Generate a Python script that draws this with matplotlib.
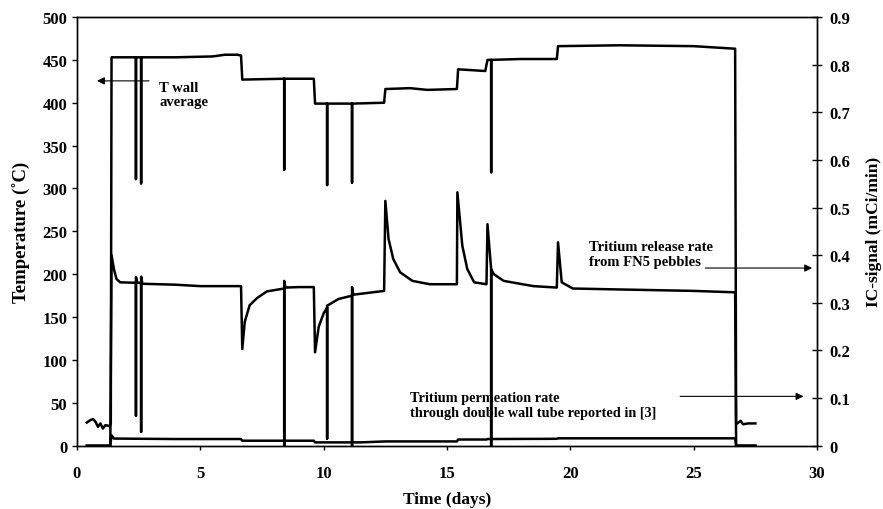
import matplotlib
matplotlib.use("Agg")
import matplotlib.pyplot as plt

plt.rcParams['font.family'] = ['Liberation Serif', 'DejaVu Serif']
plt.rcParams['font.weight'] = 'bold'

# T wall average (deg C), left axis
twall_days = [0.40, 0.55, 0.65, 0.75, 0.85, 0.95, 1.05, 1.15, 1.30, 1.37,
              1.40, 2.39, 2.39, 2.39, 2.60, 2.60, 2.60, 4.0, 5.5, 6.0, 6.5, 6.65,
              6.70, 8.40, 8.40, 8.40, 9.60,
              9.65, 10.14, 10.14, 10.14, 11.15, 11.15, 11.15, 12.45,
              12.50, 13.5, 14.2, 15.40,
              15.45, 16.55, 16.64, 16.79, 16.79, 16.79, 18.0, 19.45,
              19.50, 22.0, 25.0, 26.68,
              26.72, 26.9, 27.0, 27.2, 27.5]
twall_temp = [27, 30, 31, 28, 22, 26, 20, 24, 23, 25,
              453, 453, 311, 453, 453, 306, 453, 453, 454, 456, 456, 455,
              427, 428, 322, 428, 428,
              399, 399, 304, 399, 399, 307, 399, 400,
              416, 417, 415, 416,
              439, 437, 450, 450, 319, 450, 451, 451,
              466, 467, 466, 463,
              25, 29, 25, 26, 26]

# Tritium release rate from FN5 pebbles (mCi/min), right axis
release_days = [0.40, 1.35, 1.40, 1.50, 1.60, 1.75, 2.39, 2.39, 2.39, 2.45,
                2.60, 2.60, 2.60, 2.65, 4.0, 5.0, 6.65,
                6.70, 6.80, 7.0, 7.3, 7.7, 8.40, 8.40, 8.40, 8.45, 9.0, 9.60,
                9.65, 9.80, 10.0, 10.14, 10.14, 10.14, 10.6, 11.15, 11.15, 11.15,
                11.2, 12.45,
                12.50, 12.63, 12.82, 13.1, 13.6, 14.3, 15.40,
                15.42, 15.62, 15.82, 16.1, 16.60,
                16.64, 16.79, 16.79, 16.79, 16.9, 17.3, 18.5, 19.45,
                19.50, 19.65, 20.1, 22.0, 25.0, 26.68, 26.72, 27.5]
release_ic = [0.0, 0.0, 0.40, 0.37, 0.35, 0.343, 0.342, 0.063, 0.354, 0.342,
              0.342, 0.029, 0.355, 0.340, 0.338, 0.335, 0.335,
              0.203, 0.260, 0.295, 0.310, 0.324, 0.330, 0.0, 0.346, 0.332, 0.333, 0.333,
              0.196, 0.250, 0.278, 0.290, 0.015, 0.294, 0.308, 0.315, 0.0, 0.333,
              0.317, 0.325,
              0.514, 0.434, 0.392, 0.364, 0.346, 0.339, 0.339,
              0.532, 0.420, 0.371, 0.343, 0.339,
              0.465, 0.370, 0.0, 0.370, 0.360, 0.346, 0.335, 0.332,
              0.427, 0.343, 0.330, 0.328, 0.325, 0.322, 0.0, 0.0]

# Tritium permeation rate (mCi/min), right axis
perm_days = [0.40, 1.35, 1.40, 1.50, 4.0, 6.65, 6.70, 9.60, 9.65, 11.5, 12.0,
             12.5, 15.40, 15.45, 16.60, 16.65, 19.45, 19.50, 26.68, 26.72, 27.5]
perm_ic = [0.0, 0.0, 0.022, 0.015, 0.014, 0.014, 0.0105, 0.0105, 0.007, 0.007, 0.008,
           0.009, 0.009, 0.013, 0.013, 0.014, 0.0145, 0.0155, 0.0155, 0.0, 0.0]

fig = plt.figure(figsize=(8.83, 5.10), dpi=100)
fig.subplots_adjust(left=0.0872, right=0.9253, bottom=0.1241, top=0.9647)
ax = fig.add_subplot(111)
ax2 = ax.twinx()

lw = 1.8
ax.plot(twall_days, twall_temp, color='black', lw=lw)
ax2.plot(release_days, release_ic, color='black', lw=lw)
ax2.plot(perm_days, perm_ic, color='black', lw=lw)

ax.set_xlim(0, 30)
ax.set_ylim(0, 500)
ax2.set_ylim(0, 0.9)
ax.set_xticks(range(0, 31, 5))
ax.set_yticks(range(0, 501, 50))
ax2.set_yticks([i / 10 for i in range(10)])
ax2.set_yticklabels(['0'] + ['%.1f' % (i / 10) for i in range(1, 10)])

ax.tick_params(axis='y', direction='out', length=3.5, width=1, labelsize=12, pad=3.5)
ax.tick_params(axis='x', direction='out', length=3, width=1, labelsize=12, pad=11)
ax2.tick_params(axis='y', direction='inout', length=7, width=1, labelsize=12, pad=5.5)
for a in (ax, ax2):
    for s in a.spines.values():
        s.set_linewidth(1)
        s.set_color('black')

ax.set_xlabel('Time (days)', fontsize=12.5, fontweight='bold', labelpad=7)
ax.set_ylabel('Temperature (˚C)', fontsize=13.5, fontweight='bold', labelpad=8)
ax2.set_ylabel('IC-signal (mCi/min)', fontsize=12.5, fontweight='bold', labelpad=11)

arrow = dict(arrowstyle='-|>', color='black', lw=0.8, mutation_scale=11, shrinkA=0, shrinkB=0)

ax.text(3.33, 410, 'T wall\naverage', fontsize=10.5, fontweight='bold', va='center', ha='left',
        linespacing=1.1)
ax.annotate('', xy=(0.81, 425.5), xytext=(2.92, 425.5), arrowprops=arrow)

ax.text(20.76, 223.5, 'Tritium release rate\nfrom FN5 pebbles', fontsize=10.5, fontweight='bold',
        va='center', ha='left', linespacing=1.2)
ax2.annotate('', xy=(29.8, 0.373), xytext=(25.47, 0.373), arrowprops=arrow)

ax.text(13.5, 46.9, 'Tritium permeation rate\nthrough double wall tube reported in [3]',
        fontsize=10.3, fontweight='bold', va='center', ha='left', linespacing=1.2)
ax2.annotate('', xy=(29.45, 0.1036), xytext=(24.45, 0.1036), arrowprops=arrow)

fig.savefig('out.png', dpi=100)
